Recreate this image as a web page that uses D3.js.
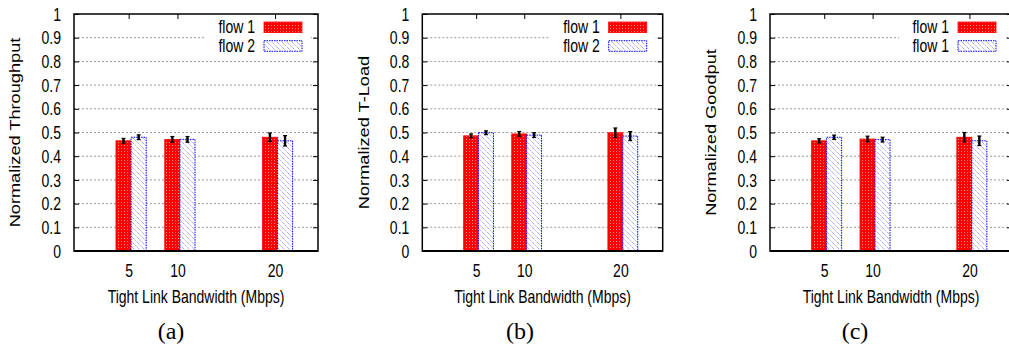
<!DOCTYPE html>
<html>
<head>
<meta charset="utf-8">
<script src="https://cdn.jsdelivr.net/npm/d3@7"></script>
<style>
  html, body { margin: 0; padding: 0; background: #fff; }
  svg { display: block; }
  text { font-family: "Liberation Sans", Arial, Helvetica, sans-serif; fill: #000; }
  .cap { font-family: "Liberation Serif", "Times New Roman", serif; }
</style>
</head>
<body>
<svg id="chart" width="1009" height="347"></svg>
<script>
// ---------------- data ----------------
const categories = [5, 10, 20];
const yTicks = [0, 0.1, 0.2, 0.3, 0.4, 0.5, 0.6, 0.7, 0.8, 0.9, 1];
const yTickLabels = ["0", "0.1", "0.2", "0.3", "0.4", "0.5", "0.6", "0.7", "0.8", "0.9", "1"];
const xLabel = "Tight Link Bandwidth (Mbps)";

const throughputFlow1 = [0.465, 0.471, 0.480];
const throughputFlow2 = [0.480, 0.471, 0.465];
const throughputErr1  = [0.010, 0.012, 0.018];
const throughputErr2  = [0.010, 0.012, 0.022];

const tloadFlow1 = [0.486, 0.494, 0.499];
const tloadFlow2 = [0.499, 0.489, 0.485];
const tloadErr1  = [0.008, 0.010, 0.020];
const tloadErr2  = [0.008, 0.010, 0.019];

const goodputFlow1 = [0.465, 0.4725, 0.480];
const goodputFlow2 = [0.480, 0.470, 0.465];
const goodputErr1  = [0.009, 0.012, 0.020];
const goodputErr2  = [0.009, 0.010, 0.020];

const panelYLabels = ["Normalized Throughput", "Normalized T-Load", "Normalized Goodput"];
const panelLegends = [["flow 1", "flow 2"], ["flow 1", "flow 2"], ["flow 1", "flow 1"]];
const panelCaptions = ["(a)", "(b)", "(c)"];

// ---------------- layout ----------------
const panels = [
  { left: 74,    width: 244,   ylabX: 15.5, capX: 171, f1: throughputFlow1, f2: throughputFlow2, e1: throughputErr1, e2: throughputErr2 },
  { left: 422.3, width: 240.4, ylabX: 364,  capX: 520, f1: tloadFlow1, f2: tloadFlow2, e1: tloadErr1, e2: tloadErr2 },
  { left: 770,   width: 242,   ylabX: 711,  capX: 855, f1: goodputFlow1, f2: goodputFlow2, e1: goodputErr1, e2: goodputErr2 }
];
const plotTop = 14, plotBottom = 251;
const xDomain = [-0.6, 24.4];
const barW = 1.55, barOff = 0.25;
const sy = 1.25;      // vertical stretch of the text in the reference
const syLab = 1.3;

const svg = d3.select("#chart");
const defs = svg.append("defs");

// red dotted pattern
const pr = defs.append("pattern").attr("id", "redPat").attr("patternUnits", "userSpaceOnUse")
  .attr("width", 3).attr("height", 3);
pr.append("rect").attr("width", 3).attr("height", 3).attr("fill", "#f00");
pr.append("rect").attr("x", 1).attr("y", 1).attr("width", 1).attr("height", 1).attr("fill", "#ff8a8a");

// blue hatch pattern
const pb = defs.append("pattern").attr("id", "bluePat").attr("patternUnits", "userSpaceOnUse")
  .attr("width", 5).attr("height", 5);
pb.append("rect").attr("width", 5).attr("height", 5).attr("fill", "#fff");
pb.append("path").attr("d", "M-1,-1 L6,6 M-1,4 L1,6 M4,-1 L6,1")
  .attr("stroke", "#8c8cff").attr("stroke-width", 1).attr("stroke-dasharray", "1.2,0.8");

function stretchedText(g, x, y, str, size, anchor) {
  return g.append("text").attr("transform", `translate(${x},${y}) scale(1,${sy})`)
    .attr("dy", "0.35em").attr("text-anchor", anchor).style("font-size", size + "px").text(str);
}

panels.forEach((p, i) => {
  const right = p.left + p.width;
  const x = d3.scaleLinear().domain(xDomain).range([p.left, right]);
  const y = d3.scaleLinear().domain([0, 1]).range([plotBottom, plotTop]);
  const g = svg.append("g");

  // gridlines
  g.selectAll("line.grid").data(yTicks.filter(t => t > 0 && t < 1)).enter().append("line")
    .attr("x1", p.left).attr("x2", right).attr("y1", d => y(d)).attr("y2", d => y(d))
    .attr("stroke", "#999").attr("stroke-width", 1).attr("stroke-dasharray", "2,2");

  // legend background
  g.append("rect").attr("x", right - 113).attr("y", plotTop + 1).attr("width", 106).attr("height", 40)
    .attr("fill", "#fff");

  // left axis with tick labels
  const yAxis = d3.axisLeft(y).tickValues(yTicks).tickFormat((d, k) => yTickLabels[k])
    .tickSizeInner(-5).tickSizeOuter(0).tickPadding(13);
  const ya = g.append("g").attr("transform", `translate(${p.left},0)`).call(yAxis);
  ya.select(".domain").remove();
  ya.selectAll("line").attr("stroke", "#000");
  ya.attr("font-family", null).attr("font-size", null);
  ya.selectAll("text").style("font-size", "14px").attr("dy", "0.35em").attr("transform", `scale(1,${sy})`);

  // right ticks
  const yAxisR = d3.axisRight(y).tickValues(yTicks).tickFormat("").tickSizeInner(-5).tickSizeOuter(0);
  const yr = g.append("g").attr("transform", `translate(${right},0)`).call(yAxisR);
  yr.select(".domain").remove();

  // bottom axis labels (ticks hidden behind bars)
  const xAxis = d3.axisBottom(x).tickValues(categories).tickFormat(d3.format("d"))
    .tickSizeInner(0).tickSizeOuter(0).tickPadding(0);
  const xa = g.append("g").attr("transform", `translate(0,${plotBottom})`).call(xAxis);
  xa.select(".domain").remove();
  xa.attr("font-family", null).attr("font-size", null);
  xa.selectAll("text").style("font-size", "14px").attr("y", null).attr("dy", "0.35em")
    .attr("transform", `translate(0,20) scale(1,${sy})`);

  // top ticks
  const xAxisT = d3.axisTop(x).tickValues(categories).tickFormat("").tickSizeInner(-5).tickSizeOuter(0);
  const xt = g.append("g").attr("transform", `translate(0,${plotTop})`).call(xAxisT);
  xt.select(".domain").remove();

  // bars
  const rows = categories.map((c, k) => ({ c, v1: p.f1[k], v2: p.f2[k], e1: p.e1[k], e2: p.e2[k] }));
  g.selectAll("rect.b1").data(rows).enter().append("rect")
    .attr("x", d => x(d.c + barOff - barW)).attr("width", d => x(d.c + barOff) - x(d.c + barOff - barW))
    .attr("y", d => y(d.v1)).attr("height", d => y(0) - y(d.v1))
    .attr("fill", "url(#redPat)").attr("stroke", "#f00").attr("stroke-width", 0.8);
  g.selectAll("rect.b2").data(rows).enter().append("rect")
    .attr("x", d => x(d.c + barOff)).attr("width", d => x(d.c + barOff + barW) - x(d.c + barOff))
    .attr("y", d => y(d.v2)).attr("height", d => y(0) - y(d.v2))
    .attr("fill", "url(#bluePat)").attr("stroke", "#00f").attr("stroke-width", 1).attr("stroke-dasharray", "1.5,1");

  // error bars
  const errs = [];
  rows.forEach(d => {
    errs.push({ cx: d.c + barOff - barW / 2, v: d.v1, e: d.e1 });
    errs.push({ cx: d.c + barOff + barW / 2, v: d.v2, e: d.e2 });
  });
  const eg = g.selectAll("g.err").data(errs).enter().append("g");
  eg.append("line").attr("x1", d => x(d.cx)).attr("x2", d => x(d.cx))
    .attr("y1", d => y(d.v - d.e)).attr("y2", d => y(d.v + d.e))
    .attr("stroke", "#000").attr("stroke-width", 2.4);
  eg.append("line").attr("x1", d => x(d.cx) - 2).attr("x2", d => x(d.cx) + 2)
    .attr("y1", d => y(d.v + d.e)).attr("y2", d => y(d.v + d.e)).attr("stroke", "#000").attr("stroke-width", 1.2);
  eg.append("line").attr("x1", d => x(d.cx) - 2).attr("x2", d => x(d.cx) + 2)
    .attr("y1", d => y(d.v - d.e)).attr("y2", d => y(d.v - d.e)).attr("stroke", "#000").attr("stroke-width", 1.2);

  // frame
  g.append("rect").attr("x", p.left).attr("y", plotTop).attr("width", p.width).attr("height", plotBottom - plotTop)
    .attr("fill", "none").attr("stroke", "#000").attr("stroke-width", 1.5);
  g.append("line").attr("x1", p.left).attr("x2", right).attr("y1", plotBottom).attr("y2", plotBottom)
    .attr("stroke", "#000").attr("stroke-width", 2);

  // legend
  const leg = panelLegends[i];
  const legY = [plotTop + 13.3, plotTop + 32];
  const pats = ["url(#redPat)", "url(#bluePat)"];
  const strokes = ["#f00", "#00f"];
  leg.forEach((lbl, k) => {
    stretchedText(g, right - 63, legY[k], lbl, 14, "end");
    g.append("rect").attr("x", right - 54).attr("y", legY[k] - 5.3).attr("width", 38).attr("height", 10.6)
      .attr("fill", pats[k]).attr("stroke", strokes[k]).attr("stroke-width", k ? 1 : 0.8)
      .attr("stroke-dasharray", k ? "1.5,1" : null);
  });

  // axis labels
  stretchedText(g, (p.left + right) / 2, 296.5, xLabel, 14, "middle");
  g.append("text").attr("transform", `translate(${p.ylabX},${(plotTop + plotBottom) / 2}) scale(1,${syLab}) rotate(-90)`)
    .attr("dy", "0.35em").attr("text-anchor", "middle").style("font-size", "14px").text(panelYLabels[i]);

  // caption
  g.append("text").attr("class", "cap").attr("x", p.capX).attr("y", 339)
    .attr("text-anchor", "middle").style("font-size", "24px").text(panelCaptions[i]);
});
</script>
</body>
</html>
